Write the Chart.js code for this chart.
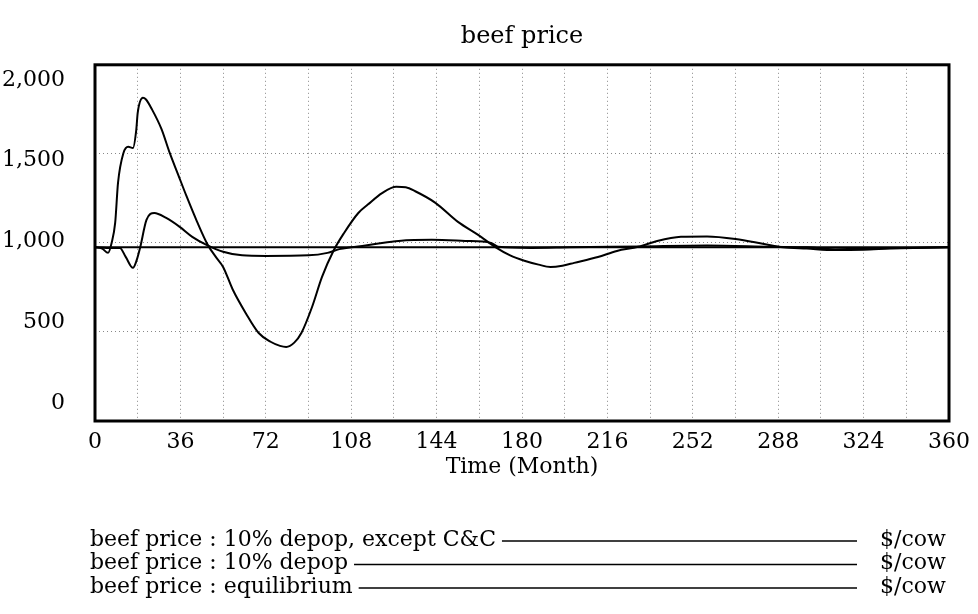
<!DOCTYPE html>
<html>
<head>
<meta charset="utf-8">
<script src="https://cdn.jsdelivr.net/npm/chart.js@4/dist/chart.umd.min.js"></script>
<style>
    body { margin: 0; background: #fff; }
</style>
</head>
<body>
<canvas id="beef" width="978" height="614"></canvas>
<script>
// 10% depop (the big swing)
const depopMonths = [0, 3, 5.5, 7, 8.5, 9.7, 12, 14, 16, 17.4, 18, 20.2, 21.5, 24, 28, 31.5, 35, 38.5, 43, 47.5, 51, 54, 58, 63.5, 69, 74, 78, 80.6, 84, 87, 91.5, 95.7, 100.7, 105, 111, 115, 121, 127, 131, 135, 143.5, 153, 161.5, 168.6, 175, 181, 187, 192, 197, 202, 212, 220, 229, 237, 247, 258, 270, 282, 290, 300, 312, 324, 335, 345, 360]
const depopPrice  = [975, 968, 944, 1000, 1112, 1337, 1505, 1540, 1533, 1635, 1730, 1815, 1805, 1750, 1640, 1505, 1385, 1265, 1120, 990, 920, 865, 740, 607, 494, 445, 422, 416, 440, 494, 640, 809, 960, 1056, 1168, 1215, 1280, 1315, 1312, 1290, 1225, 1118, 1045, 978, 930, 900, 878, 865, 872, 888, 921, 955, 978, 1011, 1034, 1036, 1022, 994, 975, 968, 960, 962, 968, 972, 975]

// 10% depop, except C&C
const cncMonths = [0, 5, 10.5, 13, 16, 17.5, 19, 21.7, 25, 30, 35.7, 41, 47, 54, 62, 72, 90, 98, 103, 108, 114, 121, 128, 142, 156, 167, 170, 184, 200, 230, 258, 285, 300, 312, 324, 340, 360]
const cncPrice  = [975, 972, 972, 920, 860, 900, 972, 1129, 1168, 1140, 1090, 1034, 989, 950, 930, 927, 930, 944, 965, 975, 985, 1000, 1011, 1017, 1011, 1000, 978, 972, 975, 980, 985, 978, 975, 965, 968, 972, 975]

// equilibrium
const eqMonths = [0, 360]
const eqPrice  = [975, 975]

const yTickValues = [0, 500, 1000, 1500, 2000]

const seriesNames = [
    'beef price : 10% depop, except C&C',
    'beef price : 10% depop',
    'beef price : equilibrium'
]
const unitLabel = '$/cow'

const FONT = 'DejaVu Serif'

Chart.defaults.font.family = FONT
Chart.defaults.color = '#000'

const zip = (xs, ys) => xs.map((x, i) => ({ x: x, y: ys[i] }))

const lineSet = (label, pts) => ({
    label,
    data: pts,
    borderColor: '#000',
    borderWidth: 2,
    pointRadius: 0,
    fill: false,
    cubicInterpolationMode: 'monotone'
})

// frame round the plot + the vensim style legend underneath
const frameAndLegend = {
    id: 'frameAndLegend',
    afterDraw(chart) {
        const { ctx, chartArea: a } = chart
        ctx.save()
        ctx.strokeStyle = '#000'
        ctx.lineWidth = 3
        ctx.strokeRect(a.left, a.top, a.right - a.left, a.bottom - a.top)

        ctx.font = '22px "' + FONT + '"'
        ctx.fillStyle = '#000'
        ctx.textBaseline = 'middle'
        seriesNames.forEach((name, i) => {
            const y = 540 + i * 23.5
            ctx.fillText(name, 90, y)
            const w = ctx.measureText(name).width
            ctx.lineWidth = 1.5
            ctx.beginPath()
            ctx.moveTo(90 + w + 6, y + 1)
            ctx.lineTo(857, y + 1)
            ctx.stroke()
            ctx.fillText(unitLabel, 880, y)
        })
        ctx.restore()
    }
}

new Chart(document.getElementById('beef').getContext('2d'), {
    type: 'line',
    data: {
        datasets: [
            lineSet(seriesNames[0], zip(cncMonths, cncPrice)),
            lineSet(seriesNames[1], zip(depopMonths, depopPrice)),
            lineSet(seriesNames[2], zip(eqMonths, eqPrice))
        ]
    },
    options: {
        responsive: false,
        animation: false,
        layout: {
            padding: { top: 2, right: 25, bottom: 130, left: 0 }
        },
        plugins: {
            legend: { display: false },
            tooltip: { enabled: false },
            title: {
                display: true,
                text: 'beef price',
                fullSize: false,
                font: { size: 24, weight: 'normal' },
                padding: { top: 20, bottom: 14 }
            }
        },
        scales: {
            x: {
                type: 'linear',
                min: 0,
                max: 360,
                afterFit: scale => { scale.height = 63 },
                ticks: {
                    stepSize: 18,
                    autoSkip: false,
                    maxRotation: 0,
                    padding: 8,
                    font: { size: 22 },
                    callback: v => (v % 36 === 0 ? v : '')
                },
                grid: { color: '#888', drawTicks: false },
                border: { display: false, dash: [1, 3] },
                title: {
                    display: true,
                    text: 'Time (Month)',
                    font: { size: 22 },
                    padding: { top: 0, bottom: 4 }
                }
            },
            y: {
                min: 0,
                max: 2000,
                afterFit: scale => { scale.width = 0 },
                ticks: { stepSize: 500, display: false },
                grid: { color: '#888', drawTicks: false },
                border: { display: false, dash: [1, 3] }
            },
            // vensim spreads its value labels a little inside the frame,
            // this axis only carries those labels
            yText: {
                type: 'linear',
                position: 'left',
                min: -111.5,
                max: 2093,
                afterFit: scale => { scale.width = 95 },
                afterBuildTicks: scale => { scale.ticks = yTickValues.map(v => ({ value: v })) },
                ticks: {
                    autoSkip: false,
                    padding: 22,
                    font: { size: 22 },
                    callback: v => Number(v).toLocaleString('en-US')
                },
                grid: { display: false },
                border: { display: false }
            }
        }
    },
    plugins: [frameAndLegend]
})
</script>
</body>
</html>
